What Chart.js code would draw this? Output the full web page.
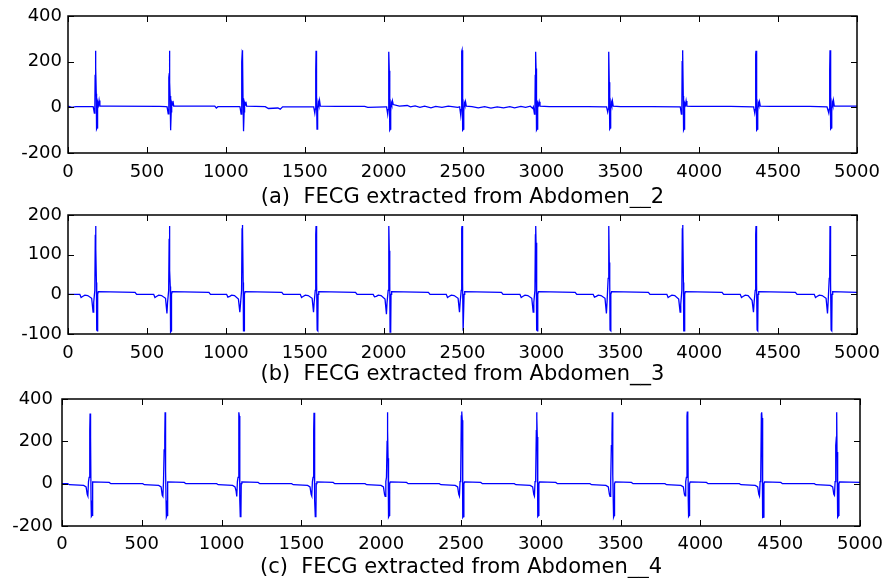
<!DOCTYPE html>
<html>
<head>
<meta charset="utf-8">
<script src="https://cdn.jsdelivr.net/npm/chart.js@4"></script>
<style>
  body { margin: 0; background: #fff; overflow: hidden; }
  canvas { position: absolute; left: 0; }
</style>
</head>
<body>
<canvas id="chartA" width="887" height="208" style="top:0px"></canvas>
<canvas id="chartB" width="887" height="190" style="top:196px"></canvas>
<canvas id="chartC" width="887" height="192" style="top:386px"></canvas>
<script>
// x ticks shared by all three panels
const xTicks = [0, 500, 1000, 1500, 2000, 2500, 3000, 3500, 4000, 4500, 5000];

// (a) FECG extracted from Abdomen__2
const xA = [
  0, 25, 50, 155,
  160, 167, 170, 172, 174, 175, 177, 179, 181, 184, 186, 189, 193, 197, 202,
  260, 580, 620,
  628, 635, 638, 640, 642, 643, 645, 647, 649, 652, 654, 657, 661, 665, 670,
  800, 930, 940, 950, 1085,
  1090, 1097, 1100, 1102, 1104, 1105, 1107, 1109, 1111, 1114, 1116, 1119, 1123, 1127, 1132,
  1250, 1270, 1330, 1345, 1360, 1550,
  1557, 1564, 1567, 1569, 1571, 1572, 1574, 1576, 1578, 1581, 1583, 1586, 1590, 1594, 1599,
  1700, 1880, 1900, 2015,
  2019, 2026, 2029, 2031, 2033, 2034, 2036, 2038, 2040, 2043, 2045, 2048, 2052, 2056, 2061,
  2100, 2150, 2170, 2200, 2230, 2260, 2300, 2330, 2370, 2410, 2470,
  2482, 2489, 2492, 2494, 2496, 2497, 2499, 2501, 2503, 2506, 2508, 2511, 2515, 2519, 2524,
  2560, 2600, 2640, 2680, 2720, 2760, 2800, 2830, 2870, 2900, 2930, 2945,
  2949, 2956, 2959, 2961, 2963, 2964, 2966, 2968, 2970, 2973, 2975, 2978, 2982, 2986, 2991,
  3050, 3300, 3400,
  3413, 3420, 3423, 3425, 3427, 3428, 3430, 3432, 3434, 3437, 3439, 3442, 3446, 3450, 3455,
  3500, 3700, 3870,
  3880, 3887, 3890, 3892, 3894, 3895, 3897, 3899, 3901, 3904, 3906, 3909, 3913, 3917, 3922,
  3950, 4200, 4340,
  4345, 4352, 4355, 4357, 4359, 4360, 4362, 4364, 4366, 4369, 4371, 4374, 4378, 4382, 4387,
  4450, 4700, 4810,
  4814, 4821, 4824, 4826, 4828, 4829, 4831, 4833, 4835, 4838, 4840, 4843, 4847, 4851, 4856,
  4900, 5000
];
const yA = [
  5, 0, 3, 3,
  2, -25, -10, 140, 160, 248, 175, 60, -95, -90, -20, 25, 10, 30, 5,
  5, 4, 3,
  2, -28, -10, 130, 150, 248, 110, 50, -100, -95, -20, 20, 10, 28, 5,
  5, 5, -3, 3, 3,
  2, -30, -10, 200, 240, 250, 235, 40, -105, -100, -20, 20, 10, 25, 5,
  3, -5, -3, -8, 2, 2,
  2, -25, -8, 150, 160, 248, 170, 50, -95, -90, -20, 22, 10, 30, 5,
  4, 4, 0, 2,
  2, -30, -10, 140, 150, 243, 160, 50, -100, -95, -20, 20, 10, 28, 12,
  5, 8, 2, 6, 0, 5, -2, 4, 0, 5, 0,
  2, -35, -10, 200, 245, 250, 240, 60, -100, -95, -20, 20, 10, 25, 5,
  3, -2, 3, -3, 2, -2, 3, -2, 4, 0, 5, -5,
  2, -30, -10, 140, 160, 243, 170, 50, -100, -95, -20, 20, 10, 25, 5,
  3, 3, 2,
  2, -20, -8, 130, 150, 243, 110, 50, -95, -90, -20, 22, 10, 28, 5,
  3, 3, 2,
  2, -30, -10, 200, 240, 250, 235, 50, -100, -95, -20, 20, 10, 28, 5,
  4, 4, 2,
  2, -25, -10, 180, 230, 248, 220, 50, -100, -95, -20, 20, 10, 25, 5,
  4, 4, 2,
  2, -25, -8, 150, 160, 250, 160, 50, -95, -90, -20, 22, 10, 30, 5,
  5, 5
];

// (b) FECG extracted from Abdomen__3
const xB = [
  0,
  75, 83, 95, 107, 125, 150, 159, 163, 170, 173, 175, 177, 180, 182, 186, 188, 192, 425, 435,
  543, 551, 563, 575, 593, 618, 627, 631, 638, 641, 643, 645, 648, 650, 654, 656, 660, 893, 903,
  1005, 1013, 1025, 1037, 1055, 1080, 1089, 1093, 1100, 1103, 1105, 1107, 1110, 1112, 1116, 1118, 1122, 1355, 1365,
  1472, 1480, 1492, 1504, 1522, 1547, 1556, 1560, 1567, 1570, 1572, 1574, 1577, 1579, 1583, 1585, 1589, 1822, 1832,
  1934, 1942, 1954, 1966, 1984, 2009, 2018, 2022, 2029, 2032, 2034, 2036, 2039, 2041, 2045, 2047, 2051, 2284, 2294,
  2397, 2405, 2417, 2429, 2447, 2472, 2481, 2485, 2492, 2495, 2497, 2499, 2502, 2504, 2508, 2510, 2514, 2747, 2757,
  2864, 2872, 2884, 2896, 2914, 2939, 2948, 2952, 2959, 2962, 2964, 2966, 2969, 2971, 2975, 2977, 2981, 3214, 3224,
  3328, 3336, 3348, 3360, 3378, 3403, 3412, 3416, 3423, 3426, 3428, 3430, 3433, 3435, 3439, 3441, 3445, 3678, 3688,
  3795, 3803, 3815, 3827, 3845, 3870, 3879, 3883, 3890, 3893, 3895, 3897, 3900, 3902, 3906, 3908, 3912, 4145, 4155,
  4260, 4268, 4280, 4292, 4310, 4335, 4344, 4348, 4355, 4358, 4360, 4362, 4365, 4367, 4371, 4373, 4377, 4610, 4620,
  4729, 4737, 4749, 4761, 4779, 4804, 4813, 4817, 4824, 4827, 4829, 4831, 4834, 4836, 4840, 4842, 4846, 5000
];
const yB = [
  0,
  0, -8, -5, -2, -3, -10, -45, -20, 10, 150, 172, 115, 30, -90, -92, 0, 7, 5, 0,
  0, -8, -5, -2, -3, -10, -48, -20, 10, 140, 172, 60, 20, -95, -92, 0, 7, 5, 0,
  0, -7, -5, -2, -3, -12, -45, -25, 10, 165, 175, 165, 30, -92, -92, 0, 7, 5, 0,
  0, -8, -5, -2, -3, -10, -45, -20, 10, 150, 172, 115, 30, -90, -92, 0, 7, 5, 0,
  0, -6, -5, -2, -3, -12, -50, -20, 10, 150, 172, 110, 30, -95, -92, 0, 7, 5, 0,
  0, -8, -5, -2, -3, -10, -45, -20, 10, 165, 172, 165, 30, -92, -92, 0, 7, 5, 0,
  0, -8, -5, -2, -3, -10, -45, -20, 10, 150, 172, 130, 30, -90, -92, 0, 7, 5, 0,
  0, -7, -5, -2, -3, -10, -48, -20, 40, 60, 172, 80, 30, -90, -92, 0, 7, 5, 0,
  0, -8, -5, -2, -3, -12, -45, -25, 10, 165, 175, 165, 30, -92, -92, 0, 7, 5, 0,
  0, -8, -5, -2, -3, -15, -45, -20, 10, 150, 172, 120, 30, -90, -92, 0, 7, 5, 0,
  0, -8, -5, -2, -3, -10, -48, -20, 40, 60, 172, 80, 30, -90, -92, 0, 7, 5
];

// (c) FECG extracted from Abdomen__4
const xC = [
  0,
  36, 46, 136, 151, 158, 162, 166, 170, 174, 176, 178, 180, 182, 184, 188, 190, 194, 296, 306,
  506, 516, 606, 621, 628, 632, 636, 640, 644, 646, 648, 650, 652, 654, 658, 660, 664, 766, 776,
  969, 979, 1069, 1084, 1091, 1095, 1099, 1103, 1107, 1109, 1111, 1113, 1115, 1117, 1121, 1123, 1127, 1229, 1239,
  1439, 1449, 1539, 1554, 1561, 1565, 1569, 1573, 1577, 1579, 1581, 1583, 1585, 1587, 1591, 1593, 1597, 1699, 1709,
  1899, 1909, 1999, 2014, 2021, 2025, 2029, 2033, 2037, 2039, 2041, 2043, 2045, 2047, 2051, 2053, 2057, 2159, 2169,
  2364, 2374, 2464, 2479, 2486, 2490, 2494, 2498, 2502, 2504, 2506, 2508, 2510, 2512, 2516, 2518, 2522, 2624, 2634,
  2834, 2844, 2934, 2949, 2956, 2960, 2964, 2968, 2972, 2974, 2976, 2978, 2980, 2982, 2986, 2988, 2992, 3094, 3104,
  3308, 3318, 3408, 3423, 3430, 3434, 3438, 3442, 3446, 3448, 3450, 3452, 3454, 3456, 3460, 3462, 3466, 3568, 3578,
  3778, 3788, 3878, 3893, 3900, 3904, 3908, 3912, 3916, 3918, 3920, 3922, 3924, 3926, 3930, 3932, 3936, 4038, 4048,
  4244, 4254, 4344, 4359, 4366, 4370, 4374, 4378, 4382, 4384, 4386, 4388, 4390, 4392, 4396, 4398, 4402, 4504, 4514,
  4714, 4724, 4814, 4829, 4836, 4840, 4844, 4848, 4852, 4854, 4856, 4858, 4860, 4862, 4866, 4868, 4872, 5000
];
const yC = [
  0,
  0, -5, -8, -15, -50, -58, 10, 30, 250, 332, 310, 220, -80, -155, -150, 0, 8, 6, 0,
  0, -5, -8, -15, -55, -60, 10, 160, 220, 337, 200, 60, -80, -158, -150, 0, 8, 6, 0,
  0, -5, -8, -15, -35, -60, 10, 30, 300, 337, 320, 300, -80, -155, -152, 0, 8, 6, 0,
  0, -5, -8, -15, -50, -58, 10, 30, 250, 335, 310, 220, -80, -155, -150, 0, 8, 6, 0,
  0, -5, -8, -15, -50, -60, 10, 30, 200, 337, 250, 120, -80, -158, -150, 0, 8, 6, 0,
  0, -5, -8, -15, -50, -58, 10, 30, 320, 341, 335, 300, -80, -160, -155, 0, 8, 6, 0,
  0, -5, -8, -15, -50, -58, 10, 30, 250, 337, 310, 220, -80, -155, -150, 0, 8, 6, 0,
  0, -5, -8, -15, -50, -60, 10, 180, 230, 337, 120, 40, -80, -158, -150, 0, 8, 6, 0,
  0, -5, -8, -15, -50, -58, 10, 30, 320, 341, 335, 300, -80, -155, -150, 0, 8, 6, 0,
  0, -5, -8, -15, -50, -58, 10, 30, 330, 337, 310, 250, -80, -160, -158, 0, 8, 6, 0,
  0, -5, -8, -15, -50, -55, 10, 180, 220, 337, 150, 60, -80, -158, -150, 0, 8, 6
];

const captionA = "(a)  FECG extracted from Abdomen__2";
const captionB = "(b)  FECG extracted from Abdomen__3";
const captionC = "(c)  FECG extracted from Abdomen__4";

const tickFont = { family: "DejaVu Sans", size: 18 };
const titleFont = { family: "DejaVu Sans", size: 21, lineHeight: 1 };

// box round the plot plus short inward tick marks on all four sides
const frame = {
  id: 'frame',
  afterDatasetsDraw(chart) {
    const ctx = chart.ctx;
    const a = chart.chartArea;
    const x = chart.scales.x;
    const y = chart.scales.y;
    ctx.save();
    ctx.strokeStyle = '#000';
    ctx.lineWidth = 1;
    ctx.beginPath();
    x.ticks.forEach(t => {
        const px = Math.round(x.getPixelForValue(t.value)) + 0.5;
        ctx.moveTo(px, a.bottom); ctx.lineTo(px, a.bottom - 6);
        ctx.moveTo(px, a.top); ctx.lineTo(px, a.top + 6);
    });
    y.ticks.forEach(t => {
        const py = Math.round(y.getPixelForValue(t.value)) + 0.5;
        ctx.moveTo(a.left, py); ctx.lineTo(a.left + 6, py);
        ctx.moveTo(a.right, py); ctx.lineTo(a.right - 6, py);
    });
    ctx.stroke();
    ctx.lineWidth = 1.5;
    ctx.strokeRect(a.left, a.top, a.right - a.left, a.bottom - a.top);
    ctx.restore();
  }
};

function drawPanel(id, xs, ys, caption, yMin, yMax, yStep, box) {
    const canvas = document.getElementById(id);
    const points = xs.map((x, i) => ({ x: x, y: ys[i] }));

    new Chart(canvas.getContext("2d"), {
        type: 'line',
        data: {
            datasets: [{
                data: points,
                borderColor: '#0000ff',
                borderWidth: 1.3,
                pointRadius: 0,
                tension: 0,
                fill: false
            }]
        },
        options: {
            responsive: false,
            animation: false,
            devicePixelRatio: 1,
            layout: {
                padding: { left: 0, right: 887 - box.right, top: box.top, bottom: 0 }
            },
            plugins: {
                legend: { display: false },
                tooltip: { enabled: false }
            },
            scales: {
                x: {
                    type: 'linear',
                    min: 0,
                    max: 5000,
                    afterBuildTicks: s => { s.ticks = xTicks.map(v => ({ value: v })); },
                    ticks: {
                        color: '#000',
                        font: tickFont,
                        padding: box.xPad,
                        autoSkip: false,
                        maxRotation: 0,
                        callback: v => String(v)
                    },
                    grid: { display: false, drawTicks: false },
                    border: { display: false },
                    title: {
                        display: true,
                        text: caption,
                        color: '#000',
                        font: titleFont,
                        padding: { top: 0, bottom: box.titlePad }
                    },
                    afterFit: s => {
                        s.height = box.height - box.bottom;
                        s.paddingLeft = 0;
                        s.paddingRight = 0;
                    }
                },
                y: {
                    min: yMin,
                    max: yMax,
                    ticks: {
                        stepSize: yStep,
                        color: '#000',
                        font: tickFont,
                        padding: box.yPad,
                        callback: v => String(v)
                    },
                    grid: { display: false, drawTicks: false },
                    border: { display: false },
                    afterFit: s => {
                        s.width = box.left;
                        s.paddingTop = 0;
                        s.paddingBottom = 0;
                    }
                }
            }
        },
        plugins: [frame]
    });
}

drawPanel("chartA", xA, yA, captionA, -200, 400, 200,
    { left: 68, right: 857, top: 16, bottom: 153, height: 208, xPad: 9, yPad: 6, titlePad: 0 });
drawPanel("chartB", xB, yB, captionB, -100, 200, 100,
    { left: 68, right: 857, top: 19, bottom: 138, height: 190, xPad: 9, yPad: 6, titlePad: 0.5 });
drawPanel("chartC", xC, yC, captionC, -200, 400, 200,
    { left: 62, right: 860, top: 13, bottom: 140, height: 192, xPad: 8, yPad: 9, titlePad: 0 });
</script>
</body>
</html>
